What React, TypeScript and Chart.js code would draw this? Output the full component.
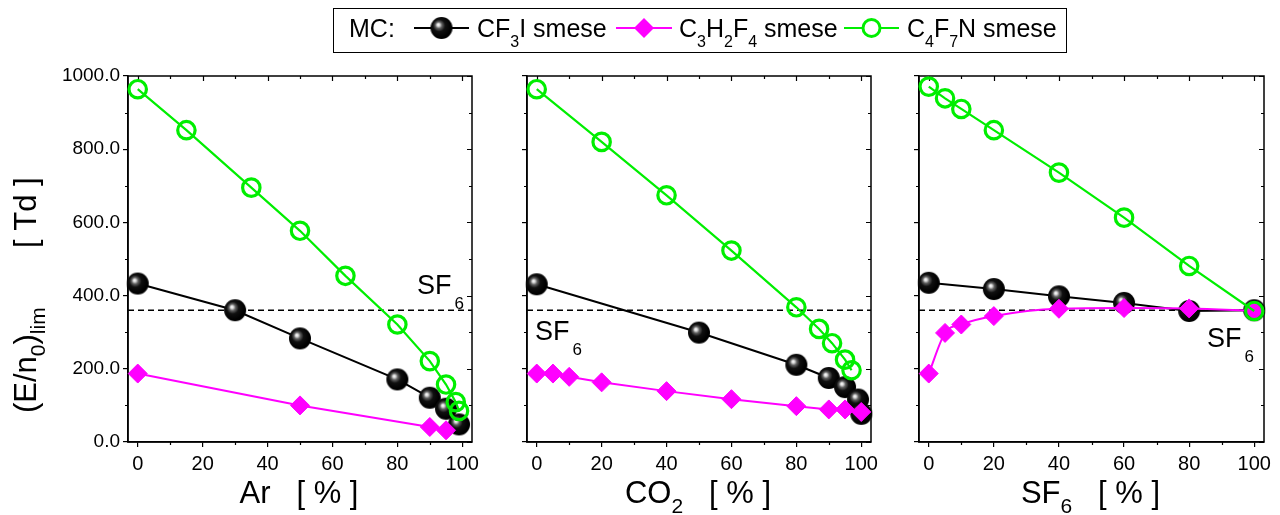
import React, { useEffect, useRef } from 'react';
import { Chart, registerables } from 'chart.js';

Chart.register(...registerables);

const FONT = 'Arial, "Liberation Sans", Helvetica, sans-serif';

// ---- axis ticks ----
const X_TICKS = [0, 20, 40, 60, 80, 100];
const X_MINOR = [10, 30, 50, 70, 90];
const Y_TICKS = [0, 200, 400, 600, 800, 1000];
const Y_MINOR = [100, 300, 500, 700, 900];
const X_MIN = -3;
const X_MAX = 103;
const Y_MIN = 0;
const Y_MAX = 1000;
const SF6_LEVEL = 360;

// ---- panel 1: Ar mixtures ----
const AR_CF3I_X = [0, 30, 50, 80, 90, 95, 99];
const AR_CF3I_Y = [433, 360, 283, 171, 121, 91, 48];
const AR_C3H2F4_X = [0, 50, 90, 95];
const AR_C3H2F4_Y = [187, 100, 41, 32];
const AR_C4F7N_X = [0, 15, 35, 50, 64, 80, 90, 95, 98, 99];
const AR_C4F7N_Y = [964, 852, 695, 577, 454, 321, 221, 157, 109, 85];

// ---- panel 2: CO2 mixtures ----
const CO2_CF3I_X = [0, 50, 80, 90, 95, 99, 100];
const CO2_CF3I_Y = [431, 299, 211, 175, 150, 116, 77];
const CO2_C3H2F4_X = [0, 5, 10, 20, 40, 60, 80, 90, 95, 100];
const CO2_C3H2F4_Y = [187, 187, 178, 163, 139, 117, 98, 89, 89, 82];
const CO2_C4F7N_X = [0, 20, 40, 60, 80, 87, 91, 95, 97];
const CO2_C4F7N_Y = [964, 820, 674, 523, 368, 309, 270, 225, 196];

// ---- panel 3: SF6 mixtures ----
const SF6_CF3I_X = [0, 20, 40, 60, 80, 100];
const SF6_CF3I_Y = [435, 418, 398, 380, 358, 360];
const SF6_C3H2F4_X = [0, 5, 10, 20, 40, 60, 80, 100];
const SF6_C3H2F4_Y = [187, 298, 321, 344, 364, 366, 365, 358];
const SF6_C4F7N_X = [0, 5, 10, 20, 40, 60, 80, 100];
const SF6_C4F7N_Y = [971, 939, 910, 852, 736, 613, 481, 358];

const BLACK = '#000000';
const MAGENTA = '#ff00ff';
const GREEN = '#00ee00';

type Part = { t: string; sub?: boolean };

type Panel = {
  key: string;
  left: number;
  right: number;
  cf3i: [number[], number[]];
  c3h2f4: [number[], number[]];
  c4f7n: [number[], number[]];
  smoothC3: boolean;
  yLabels: boolean;
  title: Part[];
  sf6: { x: number; y: number };
};

const TOP = 76;
const BOTTOM = 442;
const W = 1280;
const H = 515;
const Y_AXIS_W = 70;
const X_AXIS_H = 45;

const PANELS: Panel[] = [
  {
    key: 'ar', left: 128, right: 472,
    cf3i: [AR_CF3I_X, AR_CF3I_Y], c3h2f4: [AR_C3H2F4_X, AR_C3H2F4_Y], c4f7n: [AR_C4F7N_X, AR_C4F7N_Y],
    smoothC3: false, yLabels: true,
    title: [{ t: 'Ar   [ % ]' }],
    sf6: { x: 417, y: 294 },
  },
  {
    key: 'co2', left: 527, right: 871,
    cf3i: [CO2_CF3I_X, CO2_CF3I_Y], c3h2f4: [CO2_C3H2F4_X, CO2_C3H2F4_Y], c4f7n: [CO2_C4F7N_X, CO2_C4F7N_Y],
    smoothC3: false, yLabels: false,
    title: [{ t: 'CO' }, { t: '2', sub: true }, { t: '   [ % ]' }],
    sf6: { x: 535, y: 340 },
  },
  {
    key: 'sf6', left: 919, right: 1264,
    cf3i: [SF6_CF3I_X, SF6_CF3I_Y], c3h2f4: [SF6_C3H2F4_X, SF6_C3H2F4_Y], c4f7n: [SF6_C4F7N_X, SF6_C4F7N_Y],
    smoothC3: true, yLabels: false,
    title: [{ t: 'SF' }, { t: '6', sub: true }, { t: '   [ % ]' }],
    sf6: { x: 1207, y: 347 },
  },
];

function makeBall(r: number): HTMLCanvasElement {
  const c = document.createElement('canvas');
  const s = Math.ceil(r * 2 + 2);
  c.width = s;
  c.height = s;
  const g = c.getContext('2d')!;
  const cx = s / 2;
  const cy = s / 2;
  const grad = g.createRadialGradient(cx - r * 0.3, cy - r * 0.3, 0, cx - r * 0.15, cy - r * 0.15, r);
  grad.addColorStop(0, '#ffffff');
  grad.addColorStop(0.12, '#e0e0e0');
  grad.addColorStop(0.3, '#606060');
  grad.addColorStop(0.55, '#101010');
  grad.addColorStop(1, '#000000');
  g.fillStyle = grad;
  g.beginPath();
  g.arc(cx, cy, r, 0, Math.PI * 2);
  g.fill();
  return c;
}

function drawRich(
  ctx: CanvasRenderingContext2D, parts: Part[], x: number, y: number,
  size: number, subSize: number, subDy: number, align: 'left' | 'center', subGap = 0,
) {
  ctx.save();
  ctx.fillStyle = '#000';
  ctx.textBaseline = 'alphabetic';
  ctx.textAlign = 'left';
  const widths = parts.map((p) => {
    ctx.font = `${p.sub ? subSize : size}px ${FONT}`;
    return ctx.measureText(p.t).width + (p.sub ? subGap : 0);
  });
  const total = widths.reduce((a, b) => a + b, 0);
  let cx = align === 'center' ? x - total / 2 : x;
  parts.forEach((p, i) => {
    ctx.font = `${p.sub ? subSize : size}px ${FONT}`;
    ctx.fillText(p.t, cx + (p.sub ? subGap : 0), p.sub ? y + subDy : y);
    cx += widths[i];
  });
  ctx.restore();
}

function pts(xs: number[], ys: number[]) {
  return xs.map((x, i) => ({ x, y: ys[i] }));
}

function makeChart(canvas: HTMLCanvasElement, p: Panel, ball: HTMLCanvasElement, first: boolean) {
  const extras = {
    id: 'extras' + p.key,
    beforeDatasetsDraw(chart: any) {
      const ctx: CanvasRenderingContext2D = chart.ctx;
      const a = chart.chartArea;
      const xs = chart.scales.x;
      const ys = chart.scales.y;
      ctx.save();
      ctx.strokeStyle = '#000';
      ctx.lineWidth = 1.5;
      ctx.strokeRect(a.left, a.top, a.right - a.left, a.bottom - a.top);
      ctx.beginPath();
      X_MINOR.forEach((v) => {
        const px = Math.round(xs.getPixelForValue(v)) + 0.5;
        ctx.moveTo(px, a.bottom); ctx.lineTo(px, a.bottom + 3);
        ctx.moveTo(px, a.top); ctx.lineTo(px, a.top + 3);
      });
      Y_MINOR.forEach((v) => {
        const py = Math.round(ys.getPixelForValue(v)) + 0.5;
        ctx.moveTo(a.left, py); ctx.lineTo(a.left - 3, py);
        ctx.moveTo(a.right, py); ctx.lineTo(a.right - 3, py);
      });
      X_TICKS.forEach((v) => {
        const px = Math.round(xs.getPixelForValue(v)) + 0.5;
        ctx.moveTo(px, a.top); ctx.lineTo(px, a.top + 5);
      });
      Y_TICKS.forEach((v) => {
        const py = Math.round(ys.getPixelForValue(v)) + 0.5;
        ctx.moveTo(a.right, py); ctx.lineTo(a.right - 5, py);
      });
      ctx.lineWidth = 1.2;
      ctx.stroke();
      ctx.restore();
    },
    afterDraw(chart: any) {
      const ctx: CanvasRenderingContext2D = chart.ctx;
      const a = chart.chartArea;
      drawRich(ctx, p.title, (a.left + a.right) / 2 - 1, 503, 31, 21, 10, 'center');
      drawRich(ctx, [{ t: 'SF' }, { t: '6', sub: true }], p.sf6.x, p.sf6.y, 27, 17, 15, 'left', 3);
      if (!first) return;
      ctx.save();
      ctx.translate(36, 413);
      ctx.rotate(-Math.PI / 2);
      drawRich(ctx, [{ t: '(E/n' }, { t: '0', sub: true }, { t: ')' }, { t: 'lim', sub: true }], 0, 0, 31, 21, 9, 'left');
      ctx.restore();
      ctx.save();
      ctx.translate(36, 248);
      ctx.rotate(-Math.PI / 2);
      drawRich(ctx, [{ t: '[ Td ]' }], 0, 0, 31, 21, 9, 'left');
      ctx.restore();
      ctx.save();
      ctx.strokeStyle = '#000';
      ctx.lineWidth = 1;
      ctx.strokeRect(333.5, 8.5, 733, 44);
      const ly = 28;
      ctx.lineWidth = 2;
      ctx.strokeStyle = BLACK;
      ctx.beginPath(); ctx.moveTo(414, ly); ctx.lineTo(469, ly); ctx.stroke();
      ctx.drawImage(ball, 441.5 - ball.width / 2, ly - ball.height / 2);
      ctx.strokeStyle = MAGENTA;
      ctx.beginPath(); ctx.moveTo(616, ly); ctx.lineTo(672, ly); ctx.stroke();
      ctx.fillStyle = MAGENTA;
      ctx.beginPath();
      ctx.moveTo(644 - 10, ly); ctx.lineTo(644, ly - 10); ctx.lineTo(644 + 10, ly); ctx.lineTo(644, ly + 10);
      ctx.closePath(); ctx.fill();
      ctx.strokeStyle = GREEN;
      ctx.beginPath(); ctx.moveTo(844, ly); ctx.lineTo(899, ly); ctx.stroke();
      ctx.lineWidth = 3;
      ctx.fillStyle = '#fff';
      ctx.beginPath(); ctx.arc(871.5, ly, 8.5, 0, Math.PI * 2); ctx.fill(); ctx.stroke();
      ctx.restore();
      drawRich(ctx, [{ t: 'MC:' }], 349, 37, 25, 16, 11, 'left');
      drawRich(ctx, [{ t: 'CF' }, { t: '3', sub: true }, { t: 'I smese' }], 477, 37, 25, 16, 10, 'left');
      drawRich(ctx, [{ t: 'C' }, { t: '3', sub: true }, { t: 'H' }, { t: '2', sub: true }, { t: 'F' }, { t: '4', sub: true }, { t: ' smese' }], 679, 37, 25, 16, 10, 'left');
      drawRich(ctx, [{ t: 'C' }, { t: '4', sub: true }, { t: 'F' }, { t: '7', sub: true }, { t: 'N smese' }], 907, 37, 25, 16, 10, 'left');
    },
  };

  return new Chart(canvas, {
    type: 'scatter',
    data: {
      datasets: [
        {
          label: 'C4F7N smese',
          data: pts(p.c4f7n[0], p.c4f7n[1]),
          showLine: true,
          borderColor: GREEN,
          borderWidth: 2.2,
          pointStyle: 'circle',
          pointRadius: 8.7,
          pointBorderWidth: 3.2,
          pointBorderColor: GREEN,
          pointBackgroundColor: 'rgba(0,0,0,0)',
          order: 0,
          clip: false,
        } as any,
        {
          label: 'C3H2F4 smese',
          data: pts(p.c3h2f4[0], p.c3h2f4[1]),
          showLine: true,
          borderColor: MAGENTA,
          borderWidth: 2,
          pointStyle: 'rectRot',
          pointRadius: 9.5,
          pointBorderWidth: 1,
          pointBorderColor: MAGENTA,
          pointBackgroundColor: MAGENTA,
          cubicInterpolationMode: p.smoothC3 ? 'monotone' : 'default',
          order: 1,
          clip: false,
        } as any,
        {
          label: 'CF3I smese',
          data: pts(p.cf3i[0], p.cf3i[1]),
          showLine: true,
          borderColor: BLACK,
          borderWidth: 2,
          pointStyle: ball,
          pointRadius: 11,
          order: 2,
          clip: false,
        } as any,
        {
          label: 'SF6',
          data: [{ x: X_MIN, y: SF6_LEVEL }, { x: X_MAX, y: SF6_LEVEL }],
          showLine: true,
          borderColor: '#000',
          borderWidth: 1.5,
          borderDash: [6, 4],
          pointRadius: 0,
          order: 3,
        } as any,
      ],
    },
    options: {
      animation: false,
      responsive: false,
      maintainAspectRatio: false,
      events: [],
      layout: {
        padding: {
          left: p.left - Y_AXIS_W,
          right: W - p.right,
          top: TOP,
          bottom: H - BOTTOM - X_AXIS_H,
        },
      },
      plugins: { legend: { display: false }, tooltip: { enabled: false }, title: { display: false } },
      scales: {
        x: {
          type: 'linear',
          min: X_MIN,
          max: X_MAX,
          afterBuildTicks: (s: any) => { s.ticks = X_TICKS.map((v) => ({ value: v })); },
          afterFit: (s: any) => { s.height = X_AXIS_H; },
          grid: { drawOnChartArea: false, drawTicks: true, tickLength: 5, color: '#000', lineWidth: 1.2 },
          border: { display: true, color: '#000', width: 1.5 },
          ticks: {
            color: '#000', font: { family: FONT, size: 20 }, padding: 5,
            maxRotation: 0, autoSkip: false, callback: (v: any) => String(v),
          },
        },
        y: {
          type: 'linear',
          min: Y_MIN,
          max: Y_MAX,
          afterBuildTicks: (s: any) => { s.ticks = Y_TICKS.map((v) => ({ value: v })); },
          afterFit: (s: any) => { s.width = Y_AXIS_W; },
          grid: { drawOnChartArea: false, drawTicks: true, tickLength: 5, color: '#000', lineWidth: 1.2 },
          border: { display: true, color: '#000', width: 1.5 },
          ticks: {
            color: '#000', font: { family: FONT, size: 19 }, padding: 3, autoSkip: false,
            callback: (v: any) => (p.yLabels ? Number(v).toFixed(1) : ''),
          },
        },
      },
    } as any,
    plugins: [extras],
  });
}

export default function App() {
  const r0 = useRef<HTMLCanvasElement>(null);
  const r1 = useRef<HTMLCanvasElement>(null);
  const r2 = useRef<HTMLCanvasElement>(null);
  const refs = [r0, r1, r2];
  useEffect(() => {
    const ball = makeBall(11);
    const charts = PANELS.map((p, i) => makeChart(refs[i].current!, p, ball, i === 0));
    return () => charts.forEach((c) => c.destroy());
  }, []);
  return (
    <div style={{ position: 'absolute', left: 0, top: 0, width: W, height: H, background: '#fff' }}>
      {PANELS.map((p, i) => (
        <canvas
          key={p.key}
          ref={refs[i]}
          width={W}
          height={H}
          style={{ position: 'absolute', left: 0, top: 0, width: W, height: H }}
        />
      ))}
    </div>
  );
}
